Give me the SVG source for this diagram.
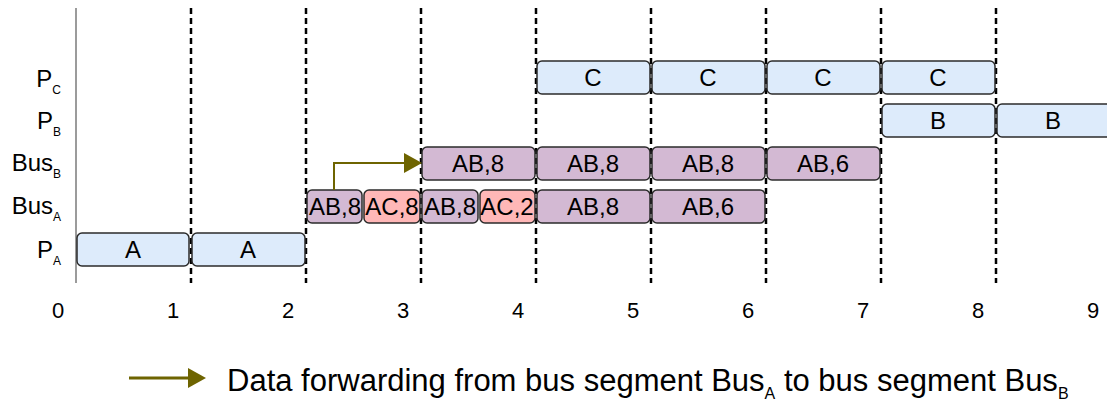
<svg xmlns="http://www.w3.org/2000/svg" width="1107" height="403" viewBox="0 0 1107 403">
  <style>
    text { font-family: "Liberation Sans", Arial, sans-serif; fill: #000; }
    .lbl { font-size: 24px; text-anchor: end; }
    .sub { font-size: 12px; }
    .tick { font-size: 22px; text-anchor: middle; }
    .bt { font-size: 24px; text-anchor: middle; }
    .slot { stroke: #2b2b2b; stroke-width: 1.5; }
    .blue { fill: #ddebfb; }
    .purple { fill: #d3b9d3; }
    .pink { fill: #ffb7b7; }
    .grid { stroke: #000; stroke-width: 2.5; stroke-dasharray: 6 4; }
    .fwd { stroke: #6e6400; stroke-width: 2; fill: none; }
    .head { fill: #6e6400; }
  </style>

  <!-- time axis and period boundaries -->
  <g id="axis">
    <line x1="76" y1="8" x2="76" y2="283" stroke="#7a7a7a" stroke-width="1.5"/>
    <line class="grid" x1="191" y1="8" x2="191" y2="283"/>
    <line class="grid" x1="306" y1="8" x2="306" y2="283"/>
    <line class="grid" x1="421" y1="8" x2="421" y2="283"/>
    <line class="grid" x1="536" y1="8" x2="536" y2="283"/>
    <line class="grid" x1="651" y1="8" x2="651" y2="283"/>
    <line class="grid" x1="766" y1="8" x2="766" y2="283"/>
    <line class="grid" x1="881" y1="8" x2="881" y2="283"/>
    <line class="grid" x1="996" y1="8" x2="996" y2="283"/>
    <text class="tick" x="58" y="318">0</text>
    <text class="tick" x="173" y="318">1</text>
    <text class="tick" x="288" y="318">2</text>
    <text class="tick" x="403" y="318">3</text>
    <text class="tick" x="518" y="318">4</text>
    <text class="tick" x="633" y="318">5</text>
    <text class="tick" x="748" y="318">6</text>
    <text class="tick" x="863" y="318">7</text>
    <text class="tick" x="978" y="318">8</text>
    <text class="tick" x="1093" y="318">9</text>
  </g>

  <!-- row labels -->
  <g id="row-labels">
    <text class="lbl" x="61" y="87">P<tspan class="sub" dy="7">C</tspan></text>
    <text class="lbl" x="61" y="129">P<tspan class="sub" dy="7">B</tspan></text>
    <text class="lbl" x="61" y="171">Bus<tspan class="sub" dy="7">B</tspan></text>
    <text class="lbl" x="61" y="214">Bus<tspan class="sub" dy="7">A</tspan></text>
    <text class="lbl" x="61" y="258">P<tspan class="sub" dy="7">A</tspan></text>
  </g>

  <!-- processor P_A -->
  <g id="pa-1"><rect class="slot blue" x="77" y="233" width="112" height="33" rx="5"/><text class="bt" x="133" y="258">A</text></g>
  <g id="pa-2"><rect class="slot blue" x="192" y="233" width="113" height="33" rx="5"/><text class="bt" x="248" y="258">A</text></g>

  <!-- bus segment A -->
  <g id="busa-1"><rect class="slot purple" x="307" y="190" width="55" height="33" rx="5"/><text class="bt" x="335" y="215">AB,8</text></g>
  <g id="busa-2"><rect class="slot pink" x="364" y="190" width="56" height="33" rx="5"/><text class="bt" x="392" y="215">AC,8</text></g>
  <g id="busa-3"><rect class="slot purple" x="422" y="190" width="56" height="33" rx="5"/><text class="bt" x="450" y="215">AB,8</text></g>
  <g id="busa-4"><rect class="slot pink" x="480" y="190" width="55" height="33" rx="5"/><text class="bt" x="507" y="215">AC,2</text></g>
  <g id="busa-5"><rect class="slot purple" x="537" y="190" width="113" height="33" rx="5"/><text class="bt" x="593" y="215">AB,8</text></g>
  <g id="busa-6"><rect class="slot purple" x="652" y="190" width="113" height="33" rx="5"/><text class="bt" x="708" y="215">AB,6</text></g>

  <!-- bus segment B -->
  <g id="busb-1"><rect class="slot purple" x="422" y="147" width="113" height="33" rx="5"/><text class="bt" x="478" y="172">AB,8</text></g>
  <g id="busb-2"><rect class="slot purple" x="537" y="147" width="113" height="33" rx="5"/><text class="bt" x="593" y="172">AB,8</text></g>
  <g id="busb-3"><rect class="slot purple" x="652" y="147" width="113" height="33" rx="5"/><text class="bt" x="708" y="172">AB,8</text></g>
  <g id="busb-4"><rect class="slot purple" x="767" y="147" width="113" height="33" rx="5"/><text class="bt" x="823" y="172">AB,6</text></g>

  <!-- processor P_B -->
  <g id="pb-1"><rect class="slot blue" x="882" y="104" width="113" height="33" rx="5"/><text class="bt" x="938" y="129">B</text></g>
  <g id="pb-2"><rect class="slot blue" x="997" y="104" width="120" height="33" rx="5"/><text class="bt" x="1053" y="129">B</text></g>

  <!-- processor P_C -->
  <g id="pc-1"><rect class="slot blue" x="537" y="61" width="113" height="33" rx="5"/><text class="bt" x="593" y="86">C</text></g>
  <g id="pc-2"><rect class="slot blue" x="652" y="61" width="113" height="33" rx="5"/><text class="bt" x="708" y="86">C</text></g>
  <g id="pc-3"><rect class="slot blue" x="767" y="61" width="113" height="33" rx="5"/><text class="bt" x="823" y="86">C</text></g>
  <g id="pc-4"><rect class="slot blue" x="882" y="61" width="113" height="33" rx="5"/><text class="bt" x="938" y="86">C</text></g>

  <!-- forwarding connector -->
  <g id="connectors">
    <polyline class="fwd" points="334,190 334,163 406,163"/>
    <polygon class="head" points="404,153 422,163 404,173"/>
  </g>

  <!-- legend -->
  <g id="legend">
    <line x1="129" y1="378" x2="190" y2="378" stroke="#6e6400" stroke-width="3"/>
    <polygon class="head" points="188,368 206,378 188,388"/>
    <text x="227" y="391" font-size="31">Data forwarding from bus segment Bus<tspan font-size="16" dy="8">A</tspan><tspan dy="-8"> to bus segment Bus</tspan><tspan font-size="16" dy="8">B</tspan></text>
  </g>
</svg>
